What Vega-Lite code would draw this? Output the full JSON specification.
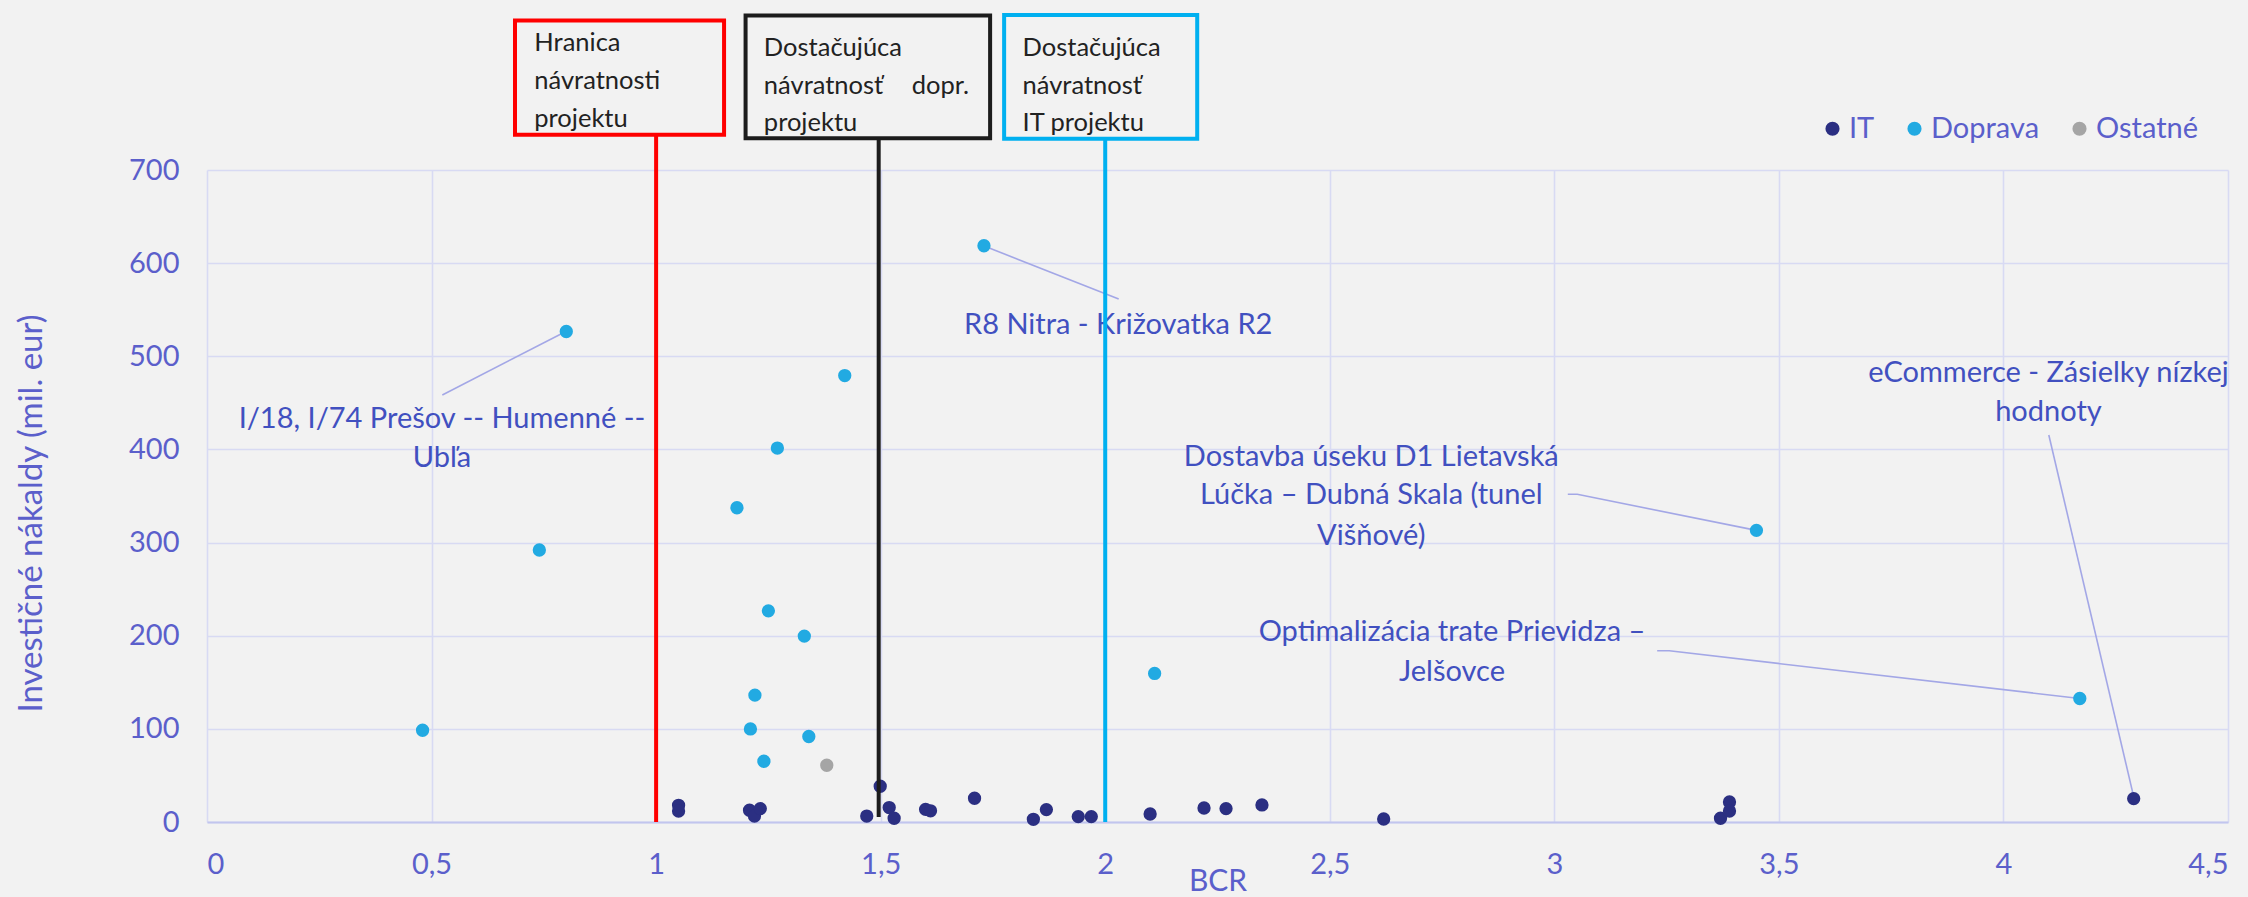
{
  "$schema": "https://vega.github.io/schema/vega-lite/v6.json",
  "autosize": {"type": "none"},
  "padding": {"left": 207, "top": 170, "right": 20, "bottom": 75},
  "width": 2021,
  "height": 652,
  "background": "#f2f2f2",
  "config": {
    "view": {"stroke": null},
    "font": "Lato",
    "axis": {
      "labelFont": "Lato",
      "titleFont": "Lato",
      "labelColor": "#5b5fcb",
      "titleColor": "#5b5fcb",
      "titleFontWeight": "normal",
      "gridColor": "#d8daf3",
      "gridWidth": 1.6,
      "ticks": false,
      "tickSize": 0
    }
  },
  "layer": [
    {
      "data": {"values": [
        {"id": "a", "ord": 1, "bcr": 0.799, "cost": 526.6},
        {"id": "a", "ord": 2, "bcr": 0.524, "cost": 458.5},
        {"id": "b", "ord": 1, "bcr": 1.729, "cost": 618.7},
        {"id": "b", "ord": 2, "bcr": 2.030, "cost": 561.4},
        {"id": "c", "ord": 1, "bcr": 3.030, "cost": 351.8},
        {"id": "c", "ord": 2, "bcr": 3.051, "cost": 351.8},
        {"id": "c", "ord": 3, "bcr": 3.450, "cost": 313.1},
        {"id": "d", "ord": 1, "bcr": 3.229, "cost": 183.8},
        {"id": "d", "ord": 2, "bcr": 3.256, "cost": 183.8},
        {"id": "d", "ord": 3, "bcr": 4.170, "cost": 132.6},
        {"id": "e", "ord": 1, "bcr": 4.101, "cost": 415.5},
        {"id": "e", "ord": 2, "bcr": 4.291, "cost": 25.1}
      ]},
      "mark": {"type": "line", "color": "#a3a7e6", "strokeWidth": 1.6},
      "encoding": {
        "x": {"field": "bcr", "type": "quantitative", "scale": {"domain": [0, 4.5], "nice": false, "zero": false},
              "axis": {"title": "BCR", "values": [0, 0.5, 1, 1.5, 2, 2.5, 3, 3.5, 4, 4.5],
                       "labelExpr": "replace(format(datum.value, '~g'), '.', ',')",
                       "labelFontSize": 29, "labelPadding": 28,
                       "domain": true, "domainColor": "#c2c5ee", "domainWidth": 2.2,
                       "titleFontSize": 30, "titleY": 59, "titleBaseline": "middle"}},
        "y": {"field": "cost", "type": "quantitative", "scale": {"domain": [0, 700], "nice": false},
              "axis": {"title": "Investičné nákaldy (mil. eur)", "values": [0, 100, 200, 300, 400, 500, 600, 700],
                       "labelFontSize": 29, "labelPadding": 28, "domain": false,
                       "titleFontSize": 33, "titleX": -176, "titleY": 343, "titleAngle": 270,
                       "titleAlign": "center", "titleBaseline": "middle"}},
        "detail": {"field": "id"},
        "order": {"field": "ord"}
      }
    },
    {
      "data": {"values": [
        {"bcr": 0.48, "cost": 98.5, "sektor": "Doprava"},
        {"bcr": 0.74, "cost": 292, "sektor": "Doprava"},
        {"bcr": 0.80, "cost": 526.6, "sektor": "Doprava"},
        {"bcr": 1.18, "cost": 337.4, "sektor": "Doprava"},
        {"bcr": 1.42, "cost": 479.3, "sektor": "Doprava"},
        {"bcr": 1.73, "cost": 618.7, "sektor": "Doprava"},
        {"bcr": 1.27, "cost": 401.5, "sektor": "Doprava"},
        {"bcr": 1.25, "cost": 226.7, "sektor": "Doprava"},
        {"bcr": 1.33, "cost": 199.6, "sektor": "Doprava"},
        {"bcr": 2.11, "cost": 159.5, "sektor": "Doprava"},
        {"bcr": 1.22, "cost": 136.2, "sektor": "Doprava"},
        {"bcr": 1.21, "cost": 99.9, "sektor": "Doprava"},
        {"bcr": 1.34, "cost": 91.8, "sektor": "Doprava"},
        {"bcr": 1.24, "cost": 65.2, "sektor": "Doprava"},
        {"bcr": 3.45, "cost": 313.1, "sektor": "Doprava"},
        {"bcr": 4.17, "cost": 132.6, "sektor": "Doprava"},
        {"bcr": 1.38, "cost": 60.9, "sektor": "Ostatné"},
        {"bcr": 1.05, "cost": 17.9, "sektor": "IT"},
        {"bcr": 1.05, "cost": 11.8, "sektor": "IT"},
        {"bcr": 1.208, "cost": 12.6, "sektor": "IT"},
        {"bcr": 1.219, "cost": 6.4, "sektor": "IT"},
        {"bcr": 1.232, "cost": 14.4, "sektor": "IT"},
        {"bcr": 1.469, "cost": 6.4, "sektor": "IT"},
        {"bcr": 1.499, "cost": 38.4, "sektor": "IT"},
        {"bcr": 1.519, "cost": 15.5, "sektor": "IT"},
        {"bcr": 1.53, "cost": 4.0, "sektor": "IT"},
        {"bcr": 1.60, "cost": 13.6, "sektor": "IT"},
        {"bcr": 1.611, "cost": 12.0, "sektor": "IT"},
        {"bcr": 1.709, "cost": 25.5, "sektor": "IT"},
        {"bcr": 1.84, "cost": 2.9, "sektor": "IT"},
        {"bcr": 1.869, "cost": 13.3, "sektor": "IT"},
        {"bcr": 1.94, "cost": 5.8, "sektor": "IT"},
        {"bcr": 1.969, "cost": 5.8, "sektor": "IT"},
        {"bcr": 2.10, "cost": 8.6, "sektor": "IT"},
        {"bcr": 2.22, "cost": 15.0, "sektor": "IT"},
        {"bcr": 2.269, "cost": 14.4, "sektor": "IT"},
        {"bcr": 2.349, "cost": 18.3, "sektor": "IT"},
        {"bcr": 2.62, "cost": 3.2, "sektor": "IT"},
        {"bcr": 3.37, "cost": 4.0, "sektor": "IT"},
        {"bcr": 3.39, "cost": 21.5, "sektor": "IT"},
        {"bcr": 3.39, "cost": 11.8, "sektor": "IT"},
        {"bcr": 4.29, "cost": 25.1, "sektor": "IT"}
      ]},
      "mark": {"type": "circle", "size": 177, "opacity": 1},
      "encoding": {
        "x": {"field": "bcr", "type": "quantitative"},
        "y": {"field": "cost", "type": "quantitative"},
        "color": {"field": "sektor", "type": "nominal",
                  "scale": {"domain": ["IT", "Doprava", "Ostatné"], "range": ["#2b2f82", "#22aae2", "#a5a5a5"]},
                  "legend": {"title": null, "orient": "none", "direction": "horizontal",
                             "legendX": 1611, "legendY": -56, "padding": 0,
                             "symbolType": "circle", "symbolSize": 200, "symbolStrokeWidth": 0, "symbolOpacity": 1,
                             "labelFont": "Lato", "labelFontSize": 29, "labelColor": "#5b5fcb",
                             "labelOffset": 2, "columnPadding": 25}}
      }
    },
    {
      "data": {"values": [
        {"txt": "I/18, I/74 Prešov -- Humenné --", "bcr": 0.5232, "cost": 432.8},
        {"txt": "Ubľa", "bcr": 0.5232, "cost": 391},
        {"txt": "R8 Nitra - Križovatka R2", "bcr": 2.0289, "cost": 533.8},
        {"txt": "Dostavba úseku D1 Lietavská", "bcr": 2.5924, "cost": 392.2},
        {"txt": "Lúčka – Dubná Skala (tunel", "bcr": 2.5924, "cost": 351.1},
        {"txt": "Višňové)", "bcr": 2.5924, "cost": 307.4},
        {"txt": "Optimalizácia trate Prievidza –", "bcr": 2.7721, "cost": 204.2},
        {"txt": "Jelšovce", "bcr": 2.7721, "cost": 161.2},
        {"txt": "eCommerce - Zásielky nízkej", "bcr": 4.1002, "cost": 481.9},
        {"txt": "hodnoty", "bcr": 4.1002, "cost": 439.9}
      ]},
      "mark": {"type": "text", "align": "center", "baseline": "middle", "font": "Lato", "fontSize": 29, "color": "#4150c0"},
      "encoding": {
        "x": {"field": "bcr", "type": "quantitative"},
        "y": {"field": "cost", "type": "quantitative"},
        "text": {"field": "txt"}
      }
    },
    {
      "data": {"values": [
        {"bcr": 1.0, "y0": 0, "y1": 737.9, "hranica": "min"},
        {"bcr": 1.4956, "y0": 5.4, "y1": 734.2, "hranica": "doprava"},
        {"bcr": 2.0, "y0": 0, "y1": 733.6, "hranica": "it"}
      ]},
      "mark": {"type": "rule", "strokeWidth": 4},
      "encoding": {
        "x": {"field": "bcr", "type": "quantitative"},
        "y": {"field": "y0", "type": "quantitative"},
        "y2": {"field": "y1"},
        "stroke": {"field": "hranica", "type": "nominal",
                   "scale": {"domain": ["min", "doprava", "it"], "range": ["#ff0000", "#1c1c1c", "#00b0f0"]},
                   "legend": null}
      }
    },
    {
      "data": {"values": [
        {"x0": 0.6858, "x1": 1.1513, "y0": 737.9, "y1": 860.4, "hranica": "min"},
        {"x0": 1.1992, "x1": 1.7437, "y0": 734.2, "y1": 865.8, "hranica": "doprava"},
        {"x0": 1.7749, "x1": 2.2048, "y0": 733.6, "y1": 866.3, "hranica": "it"}
      ]},
      "mark": {"type": "rect", "fill": null, "fillOpacity": 0, "strokeWidth": 4},
      "encoding": {
        "x": {"field": "x0", "type": "quantitative"},
        "x2": {"field": "x1"},
        "y": {"field": "y0", "type": "quantitative"},
        "y2": {"field": "y1"},
        "stroke": {"field": "hranica", "type": "nominal",
                   "scale": {"domain": ["min", "doprava", "it"], "range": ["#ff0000", "#1c1c1c", "#00b0f0"]},
                   "legend": null}
      }
    },
    {
      "data": {"values": [
        {"txt": "Hranica", "bcr": 0.7288, "cost": 836.6},
        {"txt": "návratnosti", "bcr": 0.7288, "cost": 795.5},
        {"txt": "projektu", "bcr": 0.7288, "cost": 754.9},
        {"txt": "Dostačujúca", "bcr": 1.2399, "cost": 831.0},
        {"txt": "návratnosť", "bcr": 1.2399, "cost": 789.8},
        {"txt": "dopr.", "bcr": 1.5693, "cost": 789.8},
        {"txt": "projektu", "bcr": 1.2399, "cost": 750.6},
        {"txt": "Dostačujúca", "bcr": 1.8159, "cost": 831.0},
        {"txt": "návratnosť", "bcr": 1.8159, "cost": 789.8},
        {"txt": "IT projektu", "bcr": 1.8159, "cost": 750.6}
      ]},
      "mark": {"type": "text", "align": "left", "baseline": "middle", "font": "Lato", "fontSize": 25.5, "color": "#222222"},
      "encoding": {
        "x": {"field": "bcr", "type": "quantitative"},
        "y": {"field": "cost", "type": "quantitative"},
        "text": {"field": "txt"}
      }
    }
  ]
}
